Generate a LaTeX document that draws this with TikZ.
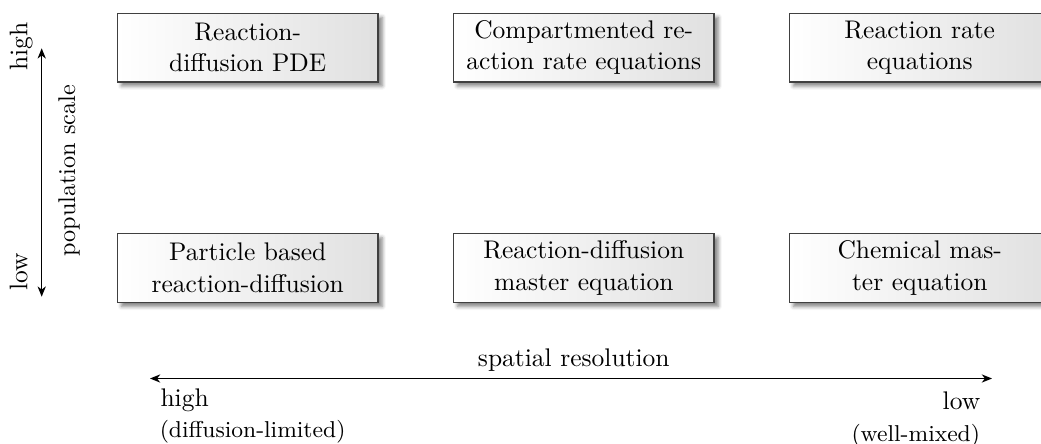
\documentclass[tikz,border=0pt]{standalone}
\usetikzlibrary{arrows.meta,shadows.blur}

% one unit = one pixel of a 1041 x 444 canvas, y growing downwards
\tikzset{
  x=0.39216pt, y=-0.39216pt,
  cell/.style={
    draw=black!75, line width=0.6pt,
    left color=white, right color=black!12,
    blur shadow={shadow xshift=1.6pt, shadow yshift=-1.6pt,
                 shadow blur radius=1.5pt, shadow opacity=50},
    text width=93pt, align=flush center, inner xsep=4.6pt, inner ysep=0pt,
    minimum width=102.2pt, minimum height=26.9pt,
    font=\fontsize{10}{12.4}\selectfont},
  axisarrow/.style={line width=0.6pt, {Stealth[length=4pt,width=3.2pt,inset=1.2pt]}-{Stealth[length=4pt,width=3.2pt,inset=1.2pt]}},
  lbl/.style={inner sep=0pt, font=\fontsize{10}{12}\selectfont},
  sublbl/.style={inner sep=0pt, font=\fontsize{9}{11}\selectfont}
}

\begin{document}
\begin{tikzpicture}
\useasboundingbox (0,0) rectangle (1041,444);

% the six model classes
\node[cell] (rdpde) at (247.75,47.6) {Reaction-\\diffusion PDE};
\node[cell] (crre)  at (583.75,47.6) {Compartmented re-\\action rate equations};
\node[cell] (rre)   at (919.75,47.6) {Reaction rate\\equations};
\node[cell] (pbrd)  at (247.75,268) {Particle based\\reaction-diffusion};
\node[cell] (rdme)  at (583.75,268) {Reaction-diffusion\\master equation};
\node[cell] (cme)   at (919.75,268) {Chemical mas-\\ter equation};

% vertical axis: population scale
\coordinate (ptop) at (41.7,48.3);
\coordinate (pbot) at (41.7,296.7);
\draw[axisarrow] (pbot) -- (ptop);
\node[lbl, rotate=90, anchor=base] (phigh) at (27.3,46.8) {high};
\node[lbl, rotate=90, anchor=base] (plow)  at (27.3,272) {low};
\node[lbl, rotate=90, anchor=base, font=\fontsize{9.5}{11}\selectfont] (pscale) at (75,170.8) {population scale};

% horizontal axis: spatial resolution
\coordinate (sleft)  at (150,378.5);
\coordinate (sright) at (992,378.5);
\draw[axisarrow] (sleft) -- (sright);
\node[lbl, anchor=base] (sres) at (573.8,366.7) {spatial resolution};
\node[lbl, anchor=base west] (shigh) at (160,406) {high};
\node[sublbl, anchor=base west] (sdiff) at (159.3,437.5) {(diffusion-limited)};
\node[lbl, anchor=base east] (slow) at (980.7,409) {low};
\node[sublbl, anchor=base east] (smix) at (980.5,441) {(well-mixed)};
\end{tikzpicture}
\end{document}
